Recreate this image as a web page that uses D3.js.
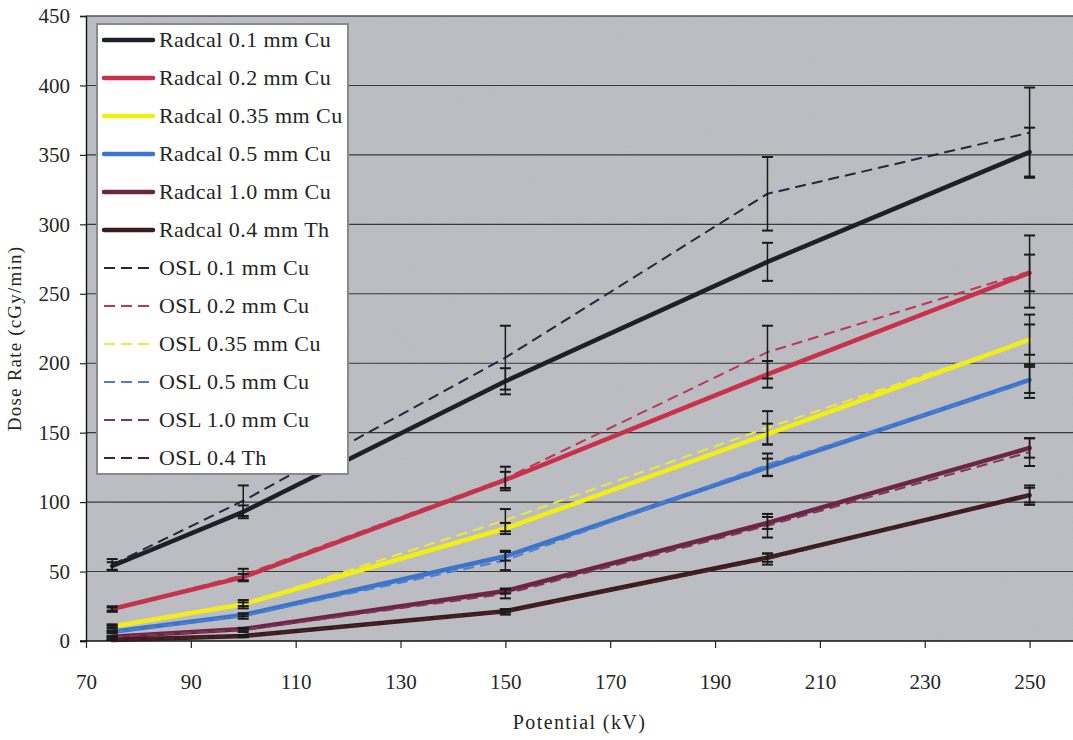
<!DOCTYPE html>
<html>
<head>
<meta charset="utf-8">
<script src="https://cdn.jsdelivr.net/npm/d3@7"></script>
<style>
  html, body { margin: 0; padding: 0; background: #ffffff; }
  svg text { font-family: "Liberation Serif", "DejaVu Serif", serif; }
</style>
</head>
<body>
<svg id="chart" width="1073" height="740"></svg>
<script>
// Tube potentials (kV) at which dose rate was measured
const potentials = [75, 100, 150, 200, 250];

// Radcal ion chamber dose rates (cGy/min) for each filter
const radcal01 = [54, 93, 187, 273, 352];
const radcal02 = [23, 46, 116, 192, 265];
const radcal035 = [10.5, 26.5, 81, 149, 217];
const radcal05 = [6.7, 18.7, 61, 125, 188];
const radcal10 = [3, 8.6, 36, 85, 139];
const radcalTh = [0.8, 3.6, 21.5, 60, 105];

// Radcal uncertainties (cGy/min)
const radcal01Err = [2.7, 4.6, 9.4, 13.7, 17.6];
const radcal02Err = [1.1, 2.3, 5.8, 9.6, 13.2];
const radcal035Err = [0.6, 1.3, 4.0, 7.5, 10.9];
const radcal05Err = [0.4, 0.9, 3.1, 6.3, 9.4];
const radcal10Err = [0.2, 0.4, 1.8, 4.3, 7.0];
const radcalThErr = [0.1, 0.2, 1.1, 3.0, 5.3];

// OSL dosimeter dose rates (cGy/min)
const osl01 = [55, 101, 204, 322, 366];
const osl02 = [23, 47.5, 117, 208, 266];
const osl035 = [10.5, 26.5, 87, 153.5, 217];
const osl05 = [6.5, 18, 58, 127, 187];
const osl10 = [3, 8, 34, 83, 136];
const oslTh = [1, 3.5, 21, 59, 105];

// OSL uncertainties (cGy/min)
const osl01Err = [4, 11, 23, 26.5, 32.5];
const osl02Err = [2, 4.5, 8.5, 19, 26];
const osl035Err = [1.5, 3, 8, 12, 18];
const osl05Err = [1, 2, 7, 8, 12];
const osl10Err = [0.5, 1.5, 3.3, 8.5, 10];
const oslThErr = [0.2, 0.8, 2, 4, 7];

// Legend labels
const radcalLabels = ["Radcal 0.1 mm Cu", "Radcal 0.2 mm Cu", "Radcal 0.35 mm Cu",
                      "Radcal 0.5 mm Cu", "Radcal 1.0 mm Cu", "Radcal 0.4 mm Th"];
const oslLabels = ["OSL 0.1 mm Cu", "OSL 0.2 mm Cu", "OSL 0.35 mm Cu",
                   "OSL 0.5 mm Cu", "OSL 1.0 mm Cu", "OSL 0.4 Th"];

// Series colours
const radcalColors = ["#1d2029", "#c9304b", "#f4ef10", "#3b74c9", "#6c2546", "#3b1c1e"];
const oslColors = ["#23273c", "#b93a52", "#ecea3a", "#4a7fd2", "#7d3558", "#4a2226"];

// Axis ticks
const xTicks = [70, 90, 110, 130, 150, 170, 190, 210, 230, 250];
const yTicks = [0, 50, 100, 150, 200, 250, 300, 350, 400, 450];

const radcalSeries = [radcal01, radcal02, radcal035, radcal05, radcal10, radcalTh];
const radcalErrs = [radcal01Err, radcal02Err, radcal035Err, radcal05Err, radcal10Err, radcalThErr];
const oslSeries = [osl01, osl02, osl035, osl05, osl10, oslTh];
const oslErrs = [osl01Err, osl02Err, osl035Err, osl05Err, osl10Err, oslThErr];

const svg = d3.select("#chart");
const W = 1073, H = 740;
const FONT = "'Liberation Serif', 'DejaVu Serif', serif";

const x = d3.scaleLinear().domain([70, 260]).range([86, 1082]);
const y = d3.scaleLinear().domain([0, 450]).range([641, 16]);

// grain texture for the plot background
const defs = svg.append("defs");
const grain = defs.append("filter").attr("id", "grain")
  .attr("x", 0).attr("y", 0).attr("width", "100%").attr("height", "100%");
grain.append("feTurbulence").attr("type", "fractalNoise")
  .attr("baseFrequency", 0.9).attr("numOctaves", 2).attr("seed", 4).attr("result", "n");
grain.append("feColorMatrix").attr("type", "matrix")
  .attr("values", "0 0 0 0 0.45  0 0 0 0 0.45  0 0 0 0 0.48  0 0 0 -1.1 0.75");

// plot area
svg.append("rect")
  .attr("x", x(70)).attr("y", y(450))
  .attr("width", x(260) - x(70)).attr("height", y(0) - y(450))
  .attr("fill", "#bdbec3");
svg.append("rect")
  .attr("x", x(70)).attr("y", y(450))
  .attr("width", x(260) - x(70)).attr("height", y(0) - y(450))
  .attr("fill", "#000").attr("filter", "url(#grain)").attr("opacity", 0.5);

// horizontal gridlines
svg.append("g")
  .selectAll("line").data(yTicks.filter(d => d > 0))
  .join("line")
  .attr("x1", x(70)).attr("x2", W)
  .attr("y1", d => y(d)).attr("y2", d => y(d))
  .attr("stroke", d => d === 450 ? "#555" : "#3a3a3a")
  .attr("stroke-width", d => d === 450 ? 1.5 : 1.1);

// y axis
const yAxis = d3.axisLeft(y).tickValues(yTicks).tickSize(6).tickPadding(10);
const gy = svg.append("g").attr("transform", `translate(${x(70)},0)`).call(yAxis)
  .attr("font-family", FONT);
gy.select(".domain").attr("stroke", "#111").attr("stroke-width", 1.4);
gy.selectAll(".tick line").attr("stroke", "#222").attr("stroke-width", 1.2);
gy.selectAll(".tick text").attr("font-size", 21).attr("fill", "#252525");

// x axis
const xAxis = d3.axisBottom(x).tickValues(xTicks).tickSize(7).tickPadding(26).tickFormat(d3.format("d"));
const gx = svg.append("g").attr("transform", `translate(0,${y(0)})`).call(xAxis)
  .attr("font-family", FONT);
gx.select(".domain").attr("stroke", "#111").attr("stroke-width", 1.6)
  .attr("d", `M${x(70) - 6},0H${W}`);
gx.selectAll(".tick line").attr("stroke", "#222").attr("stroke-width", 1.2);
gx.selectAll(".tick text").attr("font-size", 21).attr("fill", "#252525");

// axis titles
svg.append("text")
  .attr("transform", `translate(21,${(y(0) + y(450)) / 2 + 10}) rotate(-90)`)
  .attr("text-anchor", "middle").attr("font-family", FONT)
  .attr("font-size", 19).attr("letter-spacing", 1.2).attr("fill", "#252525")
  .text("Dose Rate (cGy/min)");
svg.append("text")
  .attr("x", (x(70) + W) / 2).attr("y", 729)
  .attr("text-anchor", "middle").attr("font-family", FONT)
  .attr("font-size", 20).attr("letter-spacing", 1.4).attr("fill", "#252525")
  .text("Potential (kV)");

// series lines (straight segments between measured points)
const line = d3.line()
  .x((d, i) => x(potentials[i]))
  .y(d => y(d));

const linesG = svg.append("g");
radcalSeries.forEach((s, k) => {
  linesG.append("path").datum(s)
    .attr("d", line).attr("fill", "none")
    .attr("stroke", radcalColors[k]).attr("stroke-width", 4.5)
    .attr("stroke-linejoin", "round").attr("stroke-linecap", "round");
});
oslSeries.forEach((s, k) => {
  linesG.append("path").datum(s)
    .attr("d", line).attr("fill", "none")
    .attr("stroke", oslColors[k]).attr("stroke-width", 2)
    .attr("stroke-dasharray", "11,6");
});

// error bars
const errG = svg.append("g").attr("stroke", "#1a1a1a").attr("stroke-width", 1.5);
function drawErrors(values, errs) {
  values.forEach((v, i) => {
    const cx = x(potentials[i]);
    const top = y(v + errs[i]), bot = y(v - errs[i]);
    errG.append("line").attr("x1", cx).attr("x2", cx).attr("y1", top).attr("y2", bot);
    errG.append("line").attr("x1", cx - 5.5).attr("x2", cx + 5.5).attr("y1", top).attr("y2", top).attr("stroke-width", 2);
    errG.append("line").attr("x1", cx - 5.5).attr("x2", cx + 5.5).attr("y1", bot).attr("y2", bot).attr("stroke-width", 2);
  });
}
radcalSeries.forEach((s, k) => drawErrors(s, radcalErrs[k]));
oslSeries.forEach((s, k) => drawErrors(s, oslErrs[k]));

// legend
const legend = svg.append("g");
legend.append("rect")
  .attr("x", 97).attr("y", 24).attr("width", 251).attr("height", 450)
  .attr("fill", "#ffffff").attr("stroke", "#8a8a8e").attr("stroke-width", 2);

const legendItems = radcalLabels.map((t, k) => ({ label: t, color: radcalColors[k], dashed: false }))
  .concat(oslLabels.map((t, k) => ({ label: t, color: oslColors[k], dashed: true })));

const rowY = d3.scaleLinear().domain([0, legendItems.length - 1]).range([40, 458]);
legendItems.forEach((item, i) => {
  const cy = rowY(i);
  legend.append("line")
    .attr("x1", 104).attr("x2", 153).attr("y1", cy).attr("y2", cy)
    .attr("stroke", item.color)
    .attr("stroke-width", item.dashed ? 2.2 : 4.5)
    .attr("stroke-linecap", item.dashed ? "butt" : "round")
    .attr("stroke-dasharray", item.dashed ? "11,6" : null);
  legend.append("text")
    .attr("x", 159).attr("y", cy + 7).attr("font-family", FONT)
    .attr("font-size", 22).attr("letter-spacing", 0.45).attr("fill", "#252525")
    .text(item.label);
});
</script>
</body>
</html>
